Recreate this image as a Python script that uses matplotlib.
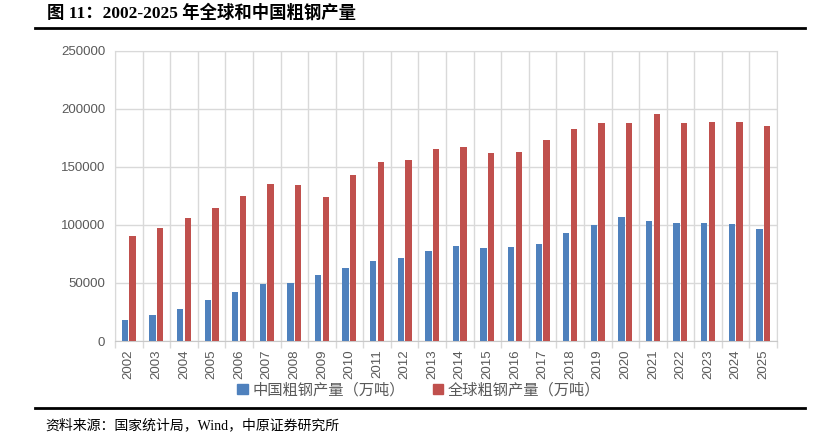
import numpy as np
import matplotlib
matplotlib.use("Agg")
import matplotlib.pyplot as plt
from matplotlib.lines import Line2D
from matplotlib.patches import Patch

years = [str(y) for y in range(2002, 2026)]
china = [18237, 22234, 27280, 35324, 41915, 48929, 50049, 56784, 62665, 68528,
         71654, 77904, 82231, 80383, 80837, 83173, 92826, 99634, 106477, 103279,
         101796, 101908, 100509, 96081]
world = [90400, 97000, 106200, 114700, 125000, 134800, 134300, 123800, 143300, 153800,
         156000, 165000, 167000, 162000, 162800, 173200, 182500, 187500, 187800, 195100,
         187900, 188800, 188200, 185000]
yticks = [0, 50000, 100000, 150000, 200000, 250000]

CJK = ['Liberation Serif', 'Noto Sans CJK SC']
blue = '#4F81BD'
red = '#C0504D'
grey = '#595959'
gridc = '#D9D9D9'

fig = plt.figure(figsize=(8.22, 4.38), dpi=100)
ax = fig.add_axes([115/822, 1-341/438, (777-115)/822, (341-50.7)/438])

x = np.arange(len(years))
w = 0.23
ax.bar(x - 0.14, china, w, color=blue, zorder=3)
ax.bar(x + 0.14, world, w, color=red, zorder=3)

ax.set_xlim(-0.5, len(years) - 0.5)
ax.set_ylim(0, 250000)
ax.set_yticks(yticks)
ax.set_yticklabels([str(v) for v in yticks], fontsize=9.5, color=grey, family='Liberation Sans')
ax.set_xticks(x)
ax.set_xticklabels(years, rotation=90, fontsize=9.5, color=grey, family='Liberation Sans')
ax.tick_params(axis='y', length=0, pad=7)
ax.tick_params(axis='x', length=0, pad=6)

# grid: horizontal lines and vertical separators between categories
ax.yaxis.grid(True, color=gridc, linewidth=1, zorder=0)
ax.set_xticks(np.arange(-0.5, len(years) + 0.5, 1), minor=True)
ax.xaxis.grid(True, which='minor', color=gridc, linewidth=1, zorder=0)
ax.tick_params(axis='x', which='minor', length=5, color=gridc, width=1)
for s in ['top', 'right', 'left']:
    ax.spines[s].set_color(gridc)
ax.spines['bottom'].set_color('#C8C8C8')

handles = [Patch(color=blue, label='中国粗钢产量（万吨）'),
           Patch(color=red, label='全球粗钢产量（万吨）')]
leg = fig.legend(handles=handles, loc='center', bbox_to_anchor=(419/822, 1-390/438),
                 ncol=2, frameon=False, prop={'family': CJK, 'size': 11},
                 handlelength=0.7, handleheight=0.7, handletextpad=0.3, columnspacing=1.8)
for t in leg.get_texts():
    t.set_color(grey)

fig.text(47/822, 1-13/438, '图 11：2002-2025 年全球和中国粗钢产量', family=CJK,
         fontsize=12.5, fontweight='bold', va='center', ha='left')
fig.add_artist(Line2D([35/822, 805/822], [1-28/438, 1-28/438], color='black', linewidth=2))
fig.add_artist(Line2D([35/822, 805/822], [1-408/438, 1-408/438], color='black', linewidth=2))
fig.text(45/822, 1-425/438, '资料来源：国家统计局，Wind，中原证券研究所', family=CJK,
         fontsize=10, va='center', ha='left')

fig.savefig('out.png', dpi=100)
